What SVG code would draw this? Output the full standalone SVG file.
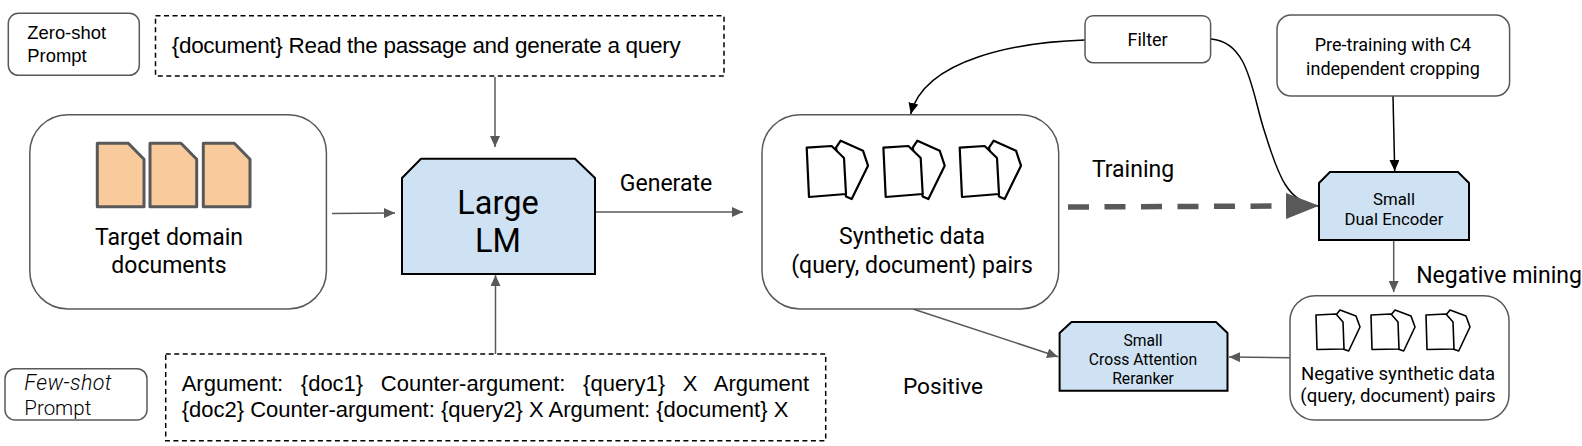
<svg xmlns="http://www.w3.org/2000/svg" width="1582" height="446" viewBox="0 0 1582 446">
<style>
text{font-family:Roboto,"Liberation Sans",sans-serif;fill:#000;text-anchor:middle}
text.a{font-family:"Liberation Sans",Arial,sans-serif;text-anchor:start}
.box{fill:#fff;stroke:#595959;stroke-width:1.5}
.dash{fill:#fff;stroke:#000;stroke-width:1.5;stroke-dasharray:5 3.500}
.lm{fill:#cfe2f3;stroke:#000;stroke-width:2}
.doc{fill:#f9cb9c;stroke:#595959;stroke-width:3;stroke-linejoin:round}
.pair{fill:#fff;stroke:#000;stroke-width:2.2;stroke-linejoin:round}
.pairs{fill:#fff;stroke:#000;stroke-width:1.6;stroke-linejoin:round}
.g{fill:none;stroke:#595959;stroke-width:1.5}
.k{fill:none;stroke:#000;stroke-width:1.5}
</style>
<defs>
<marker id="ag" markerUnits="userSpaceOnUse" markerWidth="12" markerHeight="10" refX="11" refY="5" orient="auto"><path d="M0 0L11 5L0 10Z" fill="#595959"/></marker>
<marker id="ak" markerUnits="userSpaceOnUse" markerWidth="12" markerHeight="10" refX="11" refY="5" orient="auto"><path d="M0 0L11 5L0 10Z" fill="#000"/></marker>
<marker id="abig" markerUnits="userSpaceOnUse" markerWidth="34" markerHeight="26" refX="4" refY="13" orient="auto"><path d="M0 0L33 13L0 26Z" fill="#595959"/></marker>
<path id="d" class="doc" d="M97.300 143.300H128.300L144 159.300V206.700H97.300Z"/>
<g id="p"><path class="pair" d="M836 147.700L840.700 140.700L863 150.700L868 165.700L851.700 199L846 196.500Z"/><path class="pair" d="M806.700 147.700L831.700 146L844 158L846 194L809 197Z"/></g>
<g id="ps"><path class="pairs" d="M1336 315L1340 310L1356 316L1360 327L1348.700 351L1343 349Z"/><path class="pairs" d="M1316 315L1336 314L1343 322L1344 349L1317 349.500Z"/></g>
</defs>
<g id="connectors">
<path class="g" d="M495 77V147" marker-end="url(#ag)"/>
<path class="g" d="M332 213.500L395 213" marker-end="url(#ag)"/>
<path class="g" d="M495.500 354V275" marker-end="url(#ag)"/>
<path class="g" d="M595 212H743" marker-end="url(#ag)"/>
<path class="k" d="M1085 40C1020 42 925 58 910.700 114" marker-end="url(#ak)"/>
<path class="k" d="M1211 39C1250 42 1252 95 1265 133C1278 175 1288 204 1319 206"/>
<path class="k" d="M1393 96L1394.700 171" marker-end="url(#ak)"/>
<path d="M1068 207L1290 206" fill="none" stroke="#595959" stroke-width="5.500" stroke-dasharray="21 15.500" marker-end="url(#abig)"/>
<path class="g" d="M1393.700 240V292" marker-end="url(#ag)"/>
<path class="g" d="M1290 357.700L1229 357" marker-end="url(#ag)"/>
<path class="g" d="M913 309L1058 356.700" marker-end="url(#ag)"/>
</g>
<g id="zero-label"><rect class="box" x="8.300" y="13.300" width="131" height="62" rx="10"/><text class="a" x="27.300" y="39.300" font-size="18.400">Zero-shot</text><text class="a" x="27.300" y="62.300" font-size="18.400">Prompt</text></g>
<g id="zero-prompt"><rect class="dash" x="155.500" y="15.700" width="568.500" height="60.300"/><text class="a" x="171.700" y="53.300" font-size="22.500" textLength="509">{document} Read the passage and generate a query</text></g>
<g id="target-docs"><rect class="box" x="29.800" y="114.700" width="296.600" height="194.300" rx="38"/>
<use href="#d"/><use href="#d" x="52.700"/><use href="#d" x="106"/>
<text x="169" y="245" font-size="23">Target domain</text><text x="169" y="272.700" font-size="23">documents</text></g>
<g id="large-lm"><path class="lm" d="M402 178L421 158.700H575L595 178V274H402Z"/><text x="498" y="214" font-size="32.500">Large</text><text x="498" y="252" font-size="32.500">LM</text></g>
<text x="666" y="190.700" font-size="23">Generate</text>
<g id="synthetic"><rect class="box" x="762" y="114.700" width="296.700" height="194.300" rx="38"/>
<use href="#p"/><use href="#p" x="76.700"/><use href="#p" x="153"/>
<text x="912" y="244" font-size="23">Synthetic data</text><text x="912" y="272.700" font-size="23">(query, document) pairs</text></g>
<text x="1133" y="177" font-size="23">Training</text>
<g id="filter"><rect class="box" x="1085" y="15.700" width="125.600" height="47" rx="8"/><text x="1147.600" y="45.700" font-size="18">Filter</text></g>
<g id="pretraining"><rect class="box" x="1277" y="15" width="232.600" height="81" rx="14"/><text x="1393" y="50.700" font-size="18">Pre-training with C4</text><text x="1393" y="74.700" font-size="18">independent cropping</text></g>
<g id="dual-encoder"><path class="lm" d="M1319 183L1330 172H1458L1469 183V240H1319Z"/><text x="1394" y="205" font-size="16.800">Small</text><text x="1394" y="225" font-size="16.800">Dual Encoder</text></g>
<text x="1499" y="282.700" font-size="23">Negative mining</text>
<g id="negative"><rect class="box" x="1290" y="295.700" width="219" height="124.300" rx="25"/>
<use href="#ps"/><use href="#ps" x="55"/><use href="#ps" x="110"/>
<text x="1398" y="380" font-size="18.600">Negative synthetic data</text><text x="1398" y="401.700" font-size="18.600">(query, document) pairs</text></g>
<g id="reranker"><path class="lm" d="M1059.600 333L1071.500 322H1216L1227.500 333V390.700H1059.600Z"/><text x="1143" y="345.700" font-size="15.700">Small</text><text x="1143" y="365" font-size="15.700">Cross Attention</text><text x="1143" y="384" font-size="15.700">Reranker</text></g>
<text x="943" y="394.300" font-size="22.700">Positive</text>
<g id="few-label"><rect class="box" x="5" y="368.700" width="142" height="51.300" rx="10"/><text x="24.300" y="390" font-size="21.500" font-style="italic" font-weight="300" letter-spacing="0.400" style="text-anchor:start">Few-shot</text><text x="24.300" y="414.700" font-size="20.500" font-weight="300" style="text-anchor:start">Prompt</text></g>
<g id="few-prompt"><rect class="dash" x="165.700" y="354" width="660" height="86.700"/><text class="a" x="181.700" y="390.700" font-size="22" word-spacing="11.500">Argument: {doc1} Counter-argument: {query1} X Argument</text><text class="a" x="181.700" y="417.300" font-size="22">{doc2} Counter-argument: {query2} X Argument: {document} X</text></g>
</svg>
